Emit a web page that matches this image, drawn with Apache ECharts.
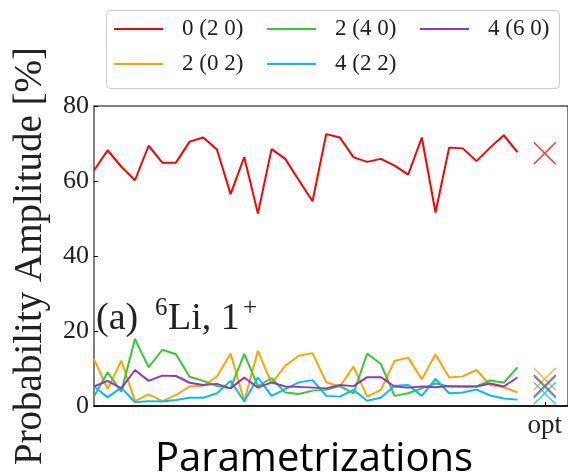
<!DOCTYPE html>
<html>
<head>
<meta charset="utf-8">
<style>
  html, body { margin: 0; padding: 0; background: #fff; }
  #chart { width: 568px; height: 475px; }
</style>
<script src="https://cdn.jsdelivr.net/npm/echarts@6/dist/echarts.min.js"></script>
</head>
<body>
<div id="chart"></div>
<script>
// Probability amplitude (%) of each SU(3) component across parametrizations
const seriesNames = ['0 (2 0)', '2 (0 2)', '2 (4 0)', '4 (2 2)', '4 (6 0)'];
const seriesColors = ['#ff0000', '#ffa500', '#32cd32', '#00bfff', '#9932cc'];

const amp_0_20 = [62.8, 68.2, 63.8, 60.2, 69.4, 64.9, 64.9, 70.5, 71.6, 68.4, 56.5, 66.4, 51.3, 68.5, 65.9, 60.2,
                  54.6, 72.5, 71.6, 66.3, 65.1, 65.9, 64.1, 61.7, 71.6, 51.6, 68.9, 68.7, 65.3, 68.9, 72.2, 67.7];
const amp_2_02 = [12.5, 4.5, 12.1, 1.3, 3.1, 1.3, 2.9, 5.2, 5.4, 7.8, 14.0, 1.3, 14.7, 6.0, 10.7, 13.4,
                  14.1, 6.3, 5.2, 10.5, 2.5, 4.3, 12.0, 12.9, 7.1, 13.8, 7.6, 7.9, 9.6, 5.6, 5.0, 3.6];
const amp_2_40 = [2.5, 9.0, 3.8, 17.9, 10.3, 15.0, 13.8, 7.8, 6.7, 5.3, 4.7, 13.9, 5.3, 7.4, 3.6, 3.2,
                  4.1, 4.3, 5.3, 3.4, 14.0, 11.2, 2.7, 3.4, 4.7, 6.0, 5.2, 5.2, 5.2, 6.8, 6.2, 10.3];
const amp_4_22 = [5.2, 2.3, 4.9, 1.0, 1.3, 1.2, 1.6, 2.2, 2.2, 3.4, 6.7, 1.2, 7.6, 2.7, 4.5, 6.3,
                  6.9, 2.7, 2.5, 4.3, 1.4, 2.2, 5.4, 5.6, 2.7, 7.2, 3.4, 3.6, 4.4, 2.8, 2.0, 1.7];
const amp_4_60 = [5.2, 6.7, 4.7, 9.6, 6.7, 8.1, 8.0, 6.2, 5.6, 5.9, 4.7, 7.6, 4.9, 6.3, 5.2, 5.1,
                  4.9, 4.7, 5.6, 5.3, 7.7, 7.7, 5.2, 4.9, 5.2, 5.0, 5.3, 5.2, 5.2, 6.0, 5.2, 7.6];

// Values at the optimal parametrization, same series order
const optValues = [67.4, 7.2, 5.0, 3.4, 5.4];
const optPosition = 33;
const optLabel = 'opt';

const yTicks = [0, 20, 40, 60, 80];
const xMax = 34.7;

const allSeries = [amp_0_20, amp_2_02, amp_2_40, amp_4_22, amp_4_60];

const serif = '"Liberation Serif", "DejaVu Serif", serif';

const series = [];
allSeries.forEach((vals, k) => {
  series.push({
    name: seriesNames[k],
    type: 'line',
    data: vals.map((v, i) => [i, v]),
    showSymbol: false,
    symbol: 'none',
    lineStyle: { color: seriesColors[k], width: 2 },
    itemStyle: { color: seriesColors[k] },
    z: 2 + k,
    animation: false
  });
  series.push({
    name: 'opt-' + seriesNames[k],
    type: 'scatter',
    data: [[optPosition, optValues[k]]],
    symbol: 'path://M0,0L20,20M20,0L0,20',
    symbolSize: 22,
    itemStyle: { color: 'none', borderColor: seriesColors[k], borderWidth: 1.5 },
    z: 10 + k,
    silent: true,
    animation: false
  });
});

// Legend laid out column by column, three columns
const legendSlots = [
  { left: 114, top: 17 }, { left: 114, top: 52 },
  { left: 267, top: 17 }, { left: 267, top: 52 },
  { left: 420, top: 17 }
];
const legends = seriesNames.map((n, k) => ({
  data: [{ name: n, icon: 'rect', itemStyle: { color: seriesColors[k] } }],
  left: legendSlots[k].left,
  top: legendSlots[k].top,
  itemWidth: 49,
  itemHeight: 2,
  padding: 0,
  selectedMode: false,
  textStyle: { fontFamily: serif, fontSize: 23, color: '#222', lineHeight: 24, padding: [0, 0, 0, 14] },
  z: 20
}));

const chart = echarts.init(document.getElementById('chart'), null, { renderer: 'canvas' });
chart.setOption({
  animation: false,
  backgroundColor: '#fff',
  grid: {
    left: 94, top: 106, right: 0, bottom: 69,
    show: true, borderColor: '#000', borderWidth: 1, backgroundColor: 'transparent'
  },
  legend: legends,
  xAxis: {
    type: 'value',
    min: 0,
    max: xMax,
    splitLine: { show: false },
    axisLine: { show: true, lineStyle: { color: '#000', width: 1.5 } },
    axisTick: { show: true, inside: true, length: 4, lineStyle: { color: '#000' }, customValues: [optPosition] },
    axisLabel: {
      show: true,
      customValues: [optPosition],
      formatter: () => optLabel,
      fontFamily: serif, fontSize: 27, color: '#222', margin: 6
    }
  },
  yAxis: {
    type: 'value',
    min: yTicks[0],
    max: yTicks[yTicks.length - 1],
    interval: 20,
    splitLine: { show: false },
    axisLine: { show: true, lineStyle: { color: '#808080', width: 2 } },
    axisTick: { show: true, inside: true, length: 4, lineStyle: { color: '#000' } },
    axisLabel: { fontFamily: serif, fontSize: 26, color: '#222', margin: 5 },
    name: 'Probability Amplitude [%]',
    nameLocation: 'middle',
    nameGap: 44,
    nameTextStyle: { fontFamily: serif, fontSize: 39, color: '#222' }
  },
  graphic: [
    {
      type: 'rect', z: 15,
      shape: { x: 106.5, y: 10.5, width: 453, height: 78, r: 4 },
      style: { fill: '#fff', stroke: '#cccccc', lineWidth: 1 }
    },
    {
      type: 'text', z: 30, left: 155, top: 440,
      style: { text: 'Parametrizations', font: '40px "Open Sans", sans-serif', fill: '#000' }
    },
    { type: 'text', z: 30, x: 96, y: 319,
      style: { text: '(a)', font: '38px ' + serif, fill: '#222', verticalAlign: 'middle' } },
    { type: 'text', z: 30, x: 155, y: 308,
      style: { text: '6', font: '25px ' + serif, fill: '#222', verticalAlign: 'middle' } },
    { type: 'text', z: 30, x: 168, y: 319,
      style: { text: 'Li, 1', font: '38px ' + serif, fill: '#222', verticalAlign: 'middle' } },
    { type: 'text', z: 30, x: 243, y: 308,
      style: { text: '+', font: '25px ' + serif, fill: '#222', verticalAlign: 'middle' } }
  ],
  series: series
});
</script>
</body>
</html>
